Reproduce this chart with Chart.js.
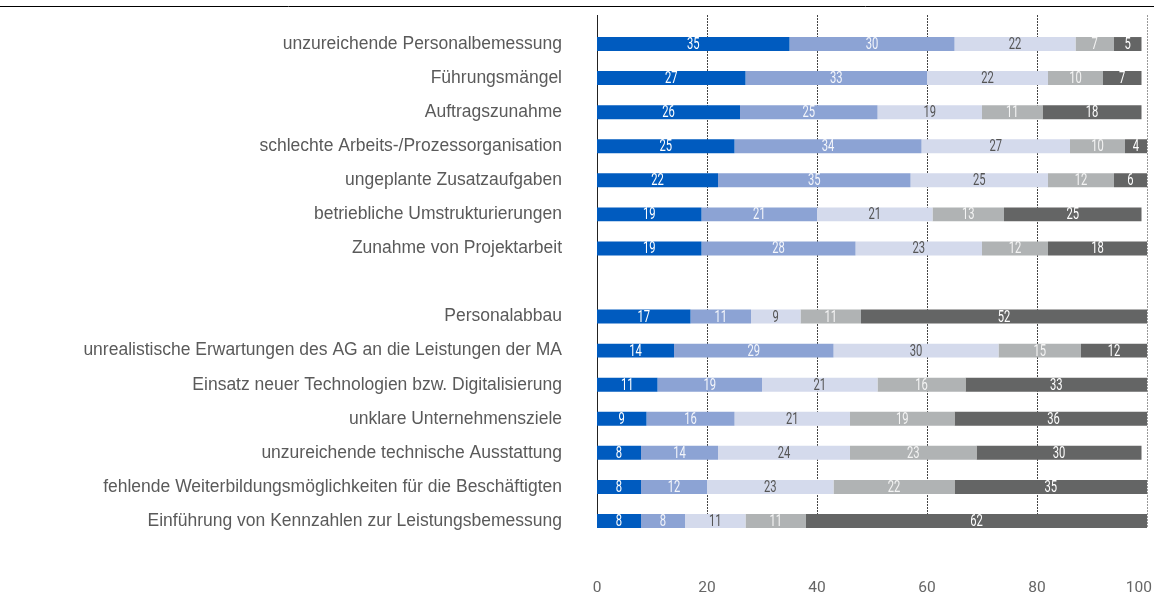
<!DOCTYPE html>
<html>
<head>
<meta charset="utf-8">
<script src="https://cdn.jsdelivr.net/npm/chart.js@4/dist/chart.umd.min.js"></script>
<style>
  html, body { margin: 0; padding: 0; background: #fff; }
  #wrap { width: 1154px; height: 599px; }
</style>
</head>
<body>
<div id="wrap"><canvas id="barChart" width="1154" height="599"></canvas></div>
<script>
const categories = [
  'unzureichende Personalbemessung',
  'Führungsmängel',
  'Auftragszunahme',
  'schlechte Arbeits-/Prozessorganisation',
  'ungeplante Zusatzaufgaben',
  'betriebliche Umstrukturierungen',
  'Zunahme von Projektarbeit',
  '',
  'Personalabbau',
  'unrealistische Erwartungen des AG an die Leistungen der MA',
  'Einsatz neuer Technologien bzw. Digitalisierung',
  'unklare Unternehmensziele',
  'unzureichende technische Ausstattung',
  'fehlende Weiterbildungsmöglichkeiten für die Beschäftigten',
  'Einführung von Kennzahlen zur Leistungsbemessung'
];
const series1 = [35, 27, 26, 25, 22, 19, 19, null, 17, 14, 11, 9, 8, 8, 8];
const series2 = [30, 33, 25, 34, 35, 21, 28, null, 11, 29, 19, 16, 14, 12, 8];
const series3 = [22, 22, 19, 27, 25, 21, 23, null, 9, 30, 21, 21, 24, 23, 11];
const series4 = [7, 10, 11, 10, 12, 13, 12, null, 11, 15, 16, 19, 23, 22, 11];
const series5 = [5, 7, 18, 4, 6, 25, 18, null, 52, 12, 33, 36, 30, 35, 62];
const xTicks = [0, 20, 40, 60, 80, 100];

const colors = ['#005bbf', '#8ca3d4', '#d4daec', '#b0b3b4', '#646565'];
const labelColors = ['#ffffff', '#f4f6fb', '#555555', '#f4f4f4', '#ffffff'];

// gridlines, axis line, top rule, x tick labels, value labels
const decorations = {
  id: 'decorations',
  beforeDatasetsDraw(chart) {
    const ctx = chart.ctx;
    const x = chart.scales.x;
    ctx.save();
    ctx.strokeStyle = '#000';
    ctx.lineWidth = 1;
    ctx.beginPath();
    ctx.moveTo(0, 6.5);
    ctx.lineTo(chart.width, 6.5);
    ctx.stroke();
    xTicks.forEach(v => {
      const px = Math.round(x.getPixelForValue(v)) + 0.5;
      ctx.beginPath();
      if (v === 0) {
        ctx.setLineDash([]);
        ctx.strokeStyle = '#222';
      } else {
        ctx.setLineDash([2, 1]);
        ctx.strokeStyle = v === 100 ? '#999' : '#444';
      }
      ctx.moveTo(px, 15);
      ctx.lineTo(px, 527);
      ctx.stroke();
    });
    ctx.setLineDash([]);
    ctx.fillStyle = '#666';
    ctx.font = '15.5px Roboto, "Liberation Sans", sans-serif';
    ctx.textAlign = 'center';
    ctx.textBaseline = 'middle';
    xTicks.forEach(v => {
      let px = x.getPixelForValue(v);
      const w = ctx.measureText(String(v)).width;
      if (px + w / 2 > chart.width - 2) px = chart.width - 2 - w / 2;
      ctx.fillText(String(v), px, 588);
    });
    ctx.restore();
  },
  afterDatasetsDraw(chart) {
    const ctx = chart.ctx;
    chart.data.datasets.forEach((ds, i) => {
      const meta = chart.getDatasetMeta(i);
      meta.data.forEach((bar, j) => {
        const v = ds.data[j];
        if (v == null) return;
        const cx = (bar.x + bar.base) / 2;
        ctx.save();
        ctx.translate(cx, bar.y + 1);
        ctx.scale(0.7, 1);
        ctx.font = '16px Roboto, "Liberation Sans", sans-serif';
        ctx.textAlign = 'center';
        ctx.textBaseline = 'middle';
        ctx.fillStyle = labelColors[i];
        ctx.fillText(String(v), 0, 0);
        ctx.restore();
      });
    });
  }
};

const ctx = document.getElementById('barChart').getContext('2d');
new Chart(ctx, {
  type: 'bar',
  data: {
    labels: categories,
    datasets: [series1, series2, series3, series4, series5].map((d, i) => ({
      label: 'S' + (i + 1),
      data: d,
      backgroundColor: colors[i],
      borderWidth: 0,
      barPercentage: 0.41,
      categoryPercentage: 1
    }))
  },
  options: {
    indexAxis: 'y',
    responsive: false,
    animation: false,
    layout: { padding: { top: 27, bottom: 61, right: 7, left: 0 } },
    plugins: { legend: { display: false }, tooltip: { enabled: false } },
    scales: {
      x: {
        stacked: true,
        min: 0,
        max: 100,
        grid: { display: false, drawTicks: false },
        border: { display: false },
        ticks: { display: false },
        afterFit(scale) { scale.height = 0; scale.paddingLeft = 0; scale.paddingRight = 0; }
      },
      y: {
        stacked: true,
        grid: { display: false, drawTicks: false },
        border: { display: false },
        ticks: {
          padding: 35,
          color: '#5a5a5a',
          font: { family: '"Liberation Sans", Roboto, sans-serif', size: 17.5 }
        },
        afterFit(scale) { scale.width = 597; scale.paddingTop = 0; scale.paddingBottom = 0; }
      }
    }
  },
  plugins: [decorations]
});
</script>
</body>
</html>
